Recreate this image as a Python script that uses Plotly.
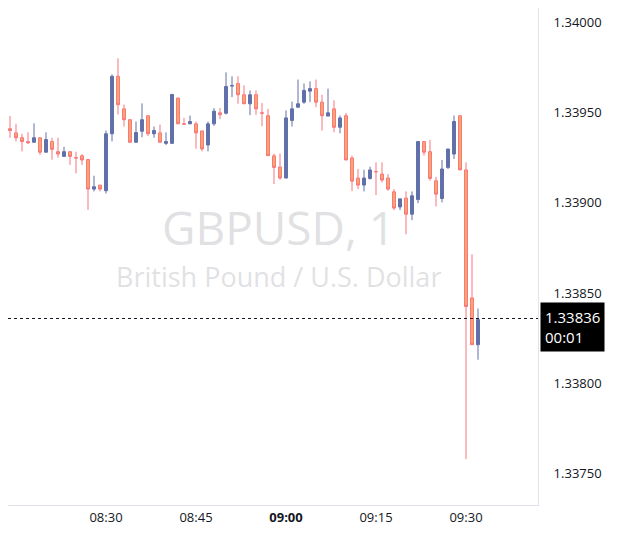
import plotly.graph_objects as go
import pandas as pd

start = "2024-01-01 08:14"
opens  = [941,938.7,936,933.9,933.5,936,928,933.9,928.3,925.7,928.3,925,926,924,907.6,909.8,906.7,938.2,970,952,946,933.5,939.6,948.2,938.2,938.7,932.9,
          932.9,958,943.7,943.7,943.7,939.8,932,943.7,949.8,949.6,964.6,966,959.8,954.8,959.8,949.8,948.2,926,919.8,913.7,945.6,952.9,955.7,961.8,963.2,955.7,948,
          952,941.8,948.2,924.8,913.7,909.8,913.5,917.3,915.9,913.7,906.1,897.7,902.6,893.7,901.8,933.9,928.3,912.2,902.4,919.6,927,948.2,918.2,847.4,821.5]
closes = [940,936,933.9,933.2,936,928,935,929.6,927,928.3,925.7,924.8,923.7,907.6,908.9,907.6,938.2,970,954.3,946,933.5,938.9,946,938.2,940,933.5,933.9,
          960,943.7,943.5,945,938.7,929.8,943.7,950.7,948.7,964.4,964.9,959.8,954.8,959.8,952,949.6,926.1,919.6,913.7,947,952,954.8,962.2,963.2,955.7,948.2,949.8,
          941.8,947,923.7,912,909.8,913.7,918.2,917.2,912.6,907.6,897.1,902.2,893.7,903.9,933.9,928,913.5,904.8,918.7,929.8,945,918.2,842.6,821.5,835.4]
highs  = [948,943.7,938.2,939,944,936,939,936,936,931,928.3,928.3,927,924,915,909.8,940,971,980,954.4,946,945,955,948.2,942.2,943.3,939,
          960,958,947,948.3,945,939.8,945,952.4,952.4,972.2,970,970,965,962.2,962.2,955.2,952,927.2,927.2,951.1,956,968.2,966,967.2,968.2,959.8,963.2,
          956.7,948.3,949.8,926.1,918.7,918.3,920,922.4,922.4,915.9,907.6,902.2,906.3,906.3,933.9,933.9,934.8,914.4,923.7,929.8,948.3,948.2,922.4,871.5,841.5]
lows   = [936,934,928.5,932.6,933.5,926.5,928,923.9,925,925.7,921,916.3,921,896,906.3,906.3,905.2,934,948.9,942.2,933.5,933.5,936.3,937,936,933.5,932,
          932.9,943.7,943.5,943.7,930,928.5,928.5,942.6,946.3,948.9,958.5,954.8,954.8,948.5,948.7,942.4,926.1,910.4,912.8,913.7,942.2,952.9,954.8,955.7,952.9,940,948,
          939,938.5,923.7,906.5,907.6,906.3,912.8,904.3,911.3,906.7,896,896,882.6,890.4,899.8,926.1,912.2,898,900.2,918.7,924.3,918.2,758.2,821.5,813.2]
last_price = 1.33836
tick_times = ["08:15", "08:30", "08:45", "09:00", "09:15", "09:30"]
price_ticks = [1.3375, 1.3380, 1.3385, 1.3390, 1.3395, 1.3400]

cv = lambda a: [1.33 + v / 1e5 for v in a]
times = pd.date_range(start, periods=len(opens), freq="1min")

fig = go.Figure(go.Candlestick(
    x=times, open=cv(opens), high=cv(highs), low=cv(lows), close=cv(closes),
    increasing=dict(line=dict(color="#6170a8", width=1), fillcolor="#6170a8"),
    decreasing=dict(line=dict(color="#f7767c", width=1), fillcolor="#ffa66b"),
    whiskerwidth=0, hoverinfo="skip"))

fig.add_shape(type="line", xref="paper", x0=0, x1=1, yref="y", y0=last_price, y1=last_price,
              line=dict(color="#131722", width=1, dash="dot"))
fig.add_annotation(xref="paper", x=1.0, xanchor="left", yref="y", y=last_price, yanchor="middle",
                   text="1.33836<br>00:01", showarrow=False, align="left", bgcolor="black",
                   font=dict(color="white", size=15, family="Open Sans"), borderpad=4, xshift=2, yshift=-9)
fig.add_annotation(xref="paper", yref="paper", x=0.51, y=0.56, text="GBPUSD, 1", showarrow=False,
                   font=dict(size=46, color="rgba(200,200,205,0.55)", family="Open Sans"))
fig.add_annotation(xref="paper", yref="paper", x=0.51, y=0.46, text="British Pound / U.S. Dollar", showarrow=False,
                   font=dict(size=27, color="rgba(200,200,205,0.55)", family="Open Sans"))

tv = [pd.Timestamp("2024-01-01 " + t) for t in tick_times]
tt = [("<b>%s</b>" % t) if t == "09:00" else t for t in tick_times]
fig.update_layout(
    width=621, height=543, paper_bgcolor="white", plot_bgcolor="white",
    margin=dict(l=0, r=91, t=0, b=46), showlegend=False,
    font=dict(family="Open Sans", size=13, color="#131722"),
    xaxis=dict(range=[pd.Timestamp("2024-01-01 08:13:40"), pd.Timestamp("2024-01-01 09:42:00")],
               tickvals=tv, ticktext=tt, showgrid=False, rangeslider=dict(visible=False),
               showline=True, linecolor="#e0e3eb", ticks="", zeroline=False),
    yaxis=dict(side="right", range=[1.337328, 1.340078], tickvals=price_ticks,
               ticktext=["%.5f" % v for v in price_ticks], showgrid=False, showline=True,
               linecolor="#e0e3eb", ticks="", zeroline=False, ticklabelstandoff=12),
)
fig.write_html("out.html")
